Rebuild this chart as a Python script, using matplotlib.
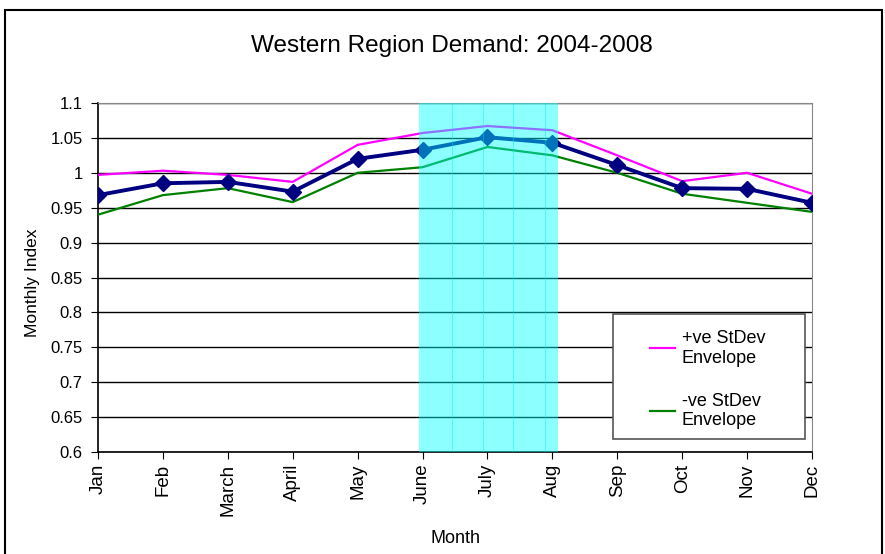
import matplotlib
matplotlib.use("Agg")
from matplotlib import pyplot as plt
from matplotlib.patches import Rectangle

months = ["Jan", "Feb", "March", "April", "May", "June",
          "July", "Aug", "Sep", "Oct", "Nov", "Dec"]
mean_index = [0.968, 0.985, 0.987, 0.973, 1.020, 1.033,
              1.051, 1.043, 1.011, 0.978, 0.977, 0.957]
plus_sd = [0.997, 1.003, 0.997, 0.987, 1.040, 1.057,
           1.067, 1.061, 1.025, 0.988, 1.000, 0.970]
minus_sd = [0.940, 0.968, 0.978, 0.958, 1.000, 1.008,
            1.037, 1.025, 1.000, 0.970, 0.957, 0.944]
summer_start, summer_end = "June", "Aug"
y_ticks = [0.6, 0.65, 0.7, 0.75, 0.8, 0.85, 0.9, 0.95, 1.0, 1.05, 1.1]
y_labels = ["0.6", "0.65", "0.7", "0.75", "0.8", "0.85", "0.9", "0.95", "1", "1.05", "1.1"]

plt.rcParams["font.family"] = ["Liberation Sans", "DejaVu Sans"]

W, H = 885, 554
fig = plt.figure(figsize=(W / 100, H / 100), dpi=100)
# plot area in pixels: x 98..812, y 103..452
ax = fig.add_axes([98 / W, 1 - 452 / H, 714 / W, 349 / H])

x = list(range(len(months)))
ax.plot(x, plus_sd, color="#ff00ff", lw=1.6, label="+ve StDev\nEnvelope", zorder=3)
ax.plot(x, minus_sd, color="#008000", lw=1.6, label="-ve StDev\nEnvelope", zorder=3)
ax.plot(x, mean_index, color="#000080", lw=2.8, marker="D", ms=8, zorder=4)

# shaded summer months
i0, i1 = months.index(summer_start), months.index(summer_end)
ax.axvspan(i0 - 0.05, i1 + 0.09, color="#00ffff", alpha=0.45, lw=0, zorder=5)
for xv in [i0 + 0.45, i0 + 0.93, i0 + 1.4, i0 + 1.88]:
    ax.axvline(xv, color="#00e8f0", lw=0.7, alpha=0.4, zorder=5)

ax.set_xlim(0, len(months) - 1)
ax.set_ylim(0.6, 1.1)
ax.set_yticks(y_ticks)
ax.set_yticklabels(y_labels, fontsize=12)
ax.set_xticks(x)
ax.set_xticklabels(months, rotation=90, fontsize=13.5)
ax.yaxis.grid(True, color="black", lw=1)
ax.set_axisbelow(True)
ax.tick_params(direction="out", length=5, color="black")
ax.tick_params(axis="y", pad=6)

for side in ["top", "right"]:
    ax.spines[side].set_color("#888888")
for side in ["left", "bottom"]:
    ax.spines[side].set_color("black")
    ax.spines[side].set_linewidth(1.2)

ax.set_xlabel("Month", fontsize=13)
ax.xaxis.set_label_coords(0.5, (452 - 530) / 349)
ax.set_ylabel("Monthly Index", fontsize=12.5)
ax.yaxis.set_label_coords((40 - 98) / 714, (452 - 283) / 349)
fig.text(452 / W, 1 - 46 / H, "Western Region Demand: 2004-2008",
         ha="center", va="center", fontsize=17.5)

# legend box
ax.add_patch(Rectangle(((613 - 98) / 714, (452 - 439) / 349), 192 / 714, 125 / 349,
                       transform=ax.transAxes, facecolor="white",
                       edgecolor="#555555", lw=1.2, zorder=9))
leg = ax.legend(loc="upper left",
                bbox_to_anchor=((650 - 98) / 714, (452 - 330) / 349),
                fontsize=13, frameon=False, borderpad=0, borderaxespad=0,
                handlelength=1.4, handletextpad=0.35, labelspacing=1.45)
leg.set_zorder(10)

fig.patches.append(Rectangle((5 / W, -0.1), 877 / W, 1.1 - 10 / H,
                             transform=fig.transFigure, fill=False,
                             edgecolor="black", lw=1.5))

fig.savefig("out.png", dpi=100)
